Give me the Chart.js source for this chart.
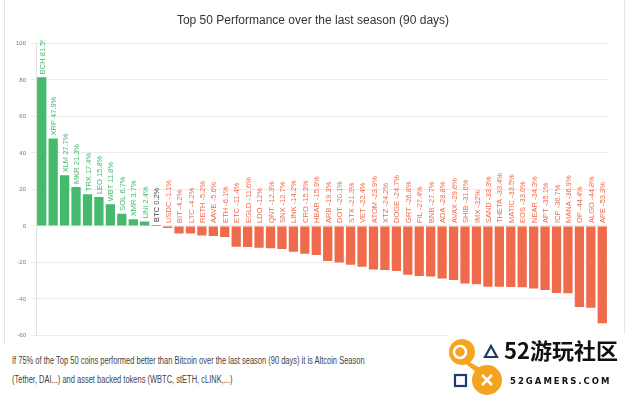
<!DOCTYPE html>
<html>
<head>
<meta charset="utf-8">
<script src="https://cdn.jsdelivr.net/npm/chart.js@4.4.1/dist/chart.umd.min.js"></script>
<style>
  html, body { margin: 0; padding: 0; background: #fff; }
  body { width: 626px; height: 398px; position: relative; overflow: hidden; font-family: "Liberation Sans", Arial, sans-serif; }
  #card { position: absolute; left: 4px; top: 0; width: 619px; height: 345px; border-left: 1px solid #e6e6e6; border-right: 1px solid #e6e6e6; }
  #wrap { position: absolute; left: 0; top: 0; width: 626px; height: 344px; }
  .note { position: absolute; left: 12px; font-size: 10px; color: #444; white-space: nowrap; transform: scaleX(0.75); transform-origin: 0 0; }
  #logo { position: absolute; left: 448px; top: 334px; width: 178px; height: 64px; background: #fff; }
  #logo .big { position: absolute; left: 56px; top: 2px; font-size: 22px; font-weight: bold; color: #111; font-family: "Noto Sans CJK SC", sans-serif; line-height: 26px; }
  #logo .small { position: absolute; left: 62px; top: 42px; font-size: 8.5px; font-weight: bold; color: #111; letter-spacing: 2px; font-family: "DejaVu Sans", sans-serif; }
</style>
</head>
<body>
<div id="card"></div>
<div id="wrap"><canvas id="myChart" width="626" height="344"></canvas></div>
<div class="note" style="top:355px;">If 75% of the Top 50 coins performed better than Bitcoin over the last season (90 days) it is Altcoin Season</div>
<div class="note" style="top:374px;">(Tether, DAI...) and asset backed tokens (WBTC, stETH, cLINK,...)</div>
<div id="logo">
  <svg width="56" height="64" style="position:absolute;left:0;top:0">
    <circle cx="14" cy="18" r="13" fill="#f5a41f"/>
    <circle cx="39" cy="46" r="15" fill="#f5a41f"/>
    <path d="M20 27 L32 34 L28 38 L18 30 Z" fill="#f5a41f"/>
    <circle cx="12" cy="18" r="6" fill="none" stroke="#fff" stroke-width="2.5"/>
    <path d="M43 12 L49 23 L37 23 Z" fill="none" stroke="#1f3a6b" stroke-width="2.2"/>
    <rect x="7" y="41" width="11" height="11" fill="none" stroke="#1f3a6b" stroke-width="2.2"/>
    <path d="M34 41 L44 51 M44 41 L34 51" stroke="#fff" stroke-width="2.6"/>
  </svg>
  <div class="big">52游玩社区</div>
  <div class="small">52GAMERS.COM</div>
</div>
<script>
// Top 50 coins, performance over the last 90 days (%)
const coins = ['BCH', 'XRP', 'XLM', 'MKR', 'TRX', 'LEO', 'WBT', 'SOL', 'XMR', 'UNI',
  'BTC', 'USDC', 'BIT', 'LTC', 'RETH', 'AAVE', 'ETH', 'ETC', 'EGLD', 'LDO',
  'QNT', 'SNX', 'LINK', 'CRO', 'HBAR', 'ARB', 'DOT', 'STX', 'VET', 'ATOM',
  'XTZ', 'DOGE', 'GRT', 'FIL', 'BNB', 'ADA', 'AVAX', 'SHIB', 'IMX', 'SAND',
  'THETA', 'MATIC', 'EOS', 'NEAR', 'APT', 'ICP', 'MANA', 'OP', 'ALGO', 'APE'];
const performance = [81.5, 47.9, 27.7, 21.3, 17.4, 15.8, 11.8, 6.7, 3.7, 2.4,
  0.2, -1.1, -4.2, -4.2, -5.2, -5.6, -6.1, -11.4, -11.6, -12,
  -12.3, -12.7, -14.2, -15.3, -15.9, -19.3, -20.1, -21.3, -22.4, -23.9,
  -24.2, -24.7, -26.8, -27.4, -27.7, -28.8, -29.6, -31.6, -32, -33.3,
  -33.4, -33.5, -33.6, -34.3, -35.1, -36.7, -36.9, -44.4, -44.8, -53.3];
const yTicks = [-60, -40, -20, 0, 20, 40, 60, 80, 100];

const GREEN = '#45b96c';
const RED = '#ef6b4c';
const GREY = '#666';

function colorFor(name, v) {
  if (name === 'BTC') return GREY;
  return v >= 0 ? GREEN : RED;
}
const barColors = coins.map((c, i) => colorFor(c, performance[i]));

// draws "NAME x%" vertically above each bar (or above zero for negatives)
const barLabels = {
  id: 'barLabels',
  afterDatasetsDraw(chart) {
    const ctx = chart.ctx;
    const meta = chart.getDatasetMeta(0);
    const zeroY = chart.scales.y.getPixelForValue(0);
    ctx.save();
    ctx.beginPath();
    ctx.rect(0, 40, chart.width, chart.height - 40);
    ctx.clip();
    ctx.font = '7.5px "Liberation Sans", Arial, sans-serif';
    ctx.textAlign = 'left';
    ctx.textBaseline = 'middle';
    meta.data.forEach((bar, i) => {
      const v = performance[i];
      const startY = (v > 0 ? Math.min(bar.y, zeroY) : zeroY) - 3;
      ctx.save();
      ctx.translate(bar.x + 1, startY);
      ctx.rotate(-Math.PI / 2);
      ctx.fillStyle = coins[i] === 'BTC' ? '#444' : barColors[i];
      ctx.fillText(coins[i] + ' ' + v + '%', 0, 0);
      ctx.restore();
    });
    ctx.restore();
  }
};

const ctx = document.getElementById('myChart').getContext('2d');
new Chart(ctx, {
  type: 'bar',
  data: {
    labels: coins,
    datasets: [{
      data: performance,
      backgroundColor: barColors,
      barPercentage: 0.81,
      categoryPercentage: 1.0,
      minBarLength: 1
    }]
  },
  options: {
    responsive: false,
    animation: false,
    layout: { padding: { left: 0, right: 0, top: 0, bottom: 6 } },
    plugins: {
      legend: { display: false },
      tooltip: { enabled: false },
      title: {
        display: true,
        text: 'Top 50 Performance over the last season (90 days)',
        color: '#333',
        font: { size: 12, weight: 'normal', family: '"Liberation Sans", Arial, sans-serif' },
        padding: { top: 13, bottom: 16 }
      }
    },
    scales: {
      x: {
        display: false
      },
      y: {
        min: -60,
        max: 100,
        afterFit(scale) { scale.width = 36; },
        afterBuildTicks(scale) { scale.ticks = yTicks.map(v => ({ value: v })); },
        ticks: {
          color: '#777',
          padding: 5,
          font: { size: 6, family: '"Liberation Sans", Arial, sans-serif' }
        },
        grid: { color: '#ececec', tickLength: 5, tickColor: '#ececec' },
        border: { color: '#e0e0e0' }
      },
      // empty right-hand spacer so the plot ends where the original does
      yRight: {
        position: 'right',
        min: -60,
        max: 100,
        afterFit(scale) { scale.width = 18; },
        ticks: { display: false },
        grid: { display: false },
        border: { display: false }
      }
    }
  },
  plugins: [barLabels]
});
</script>
</body>
</html>
